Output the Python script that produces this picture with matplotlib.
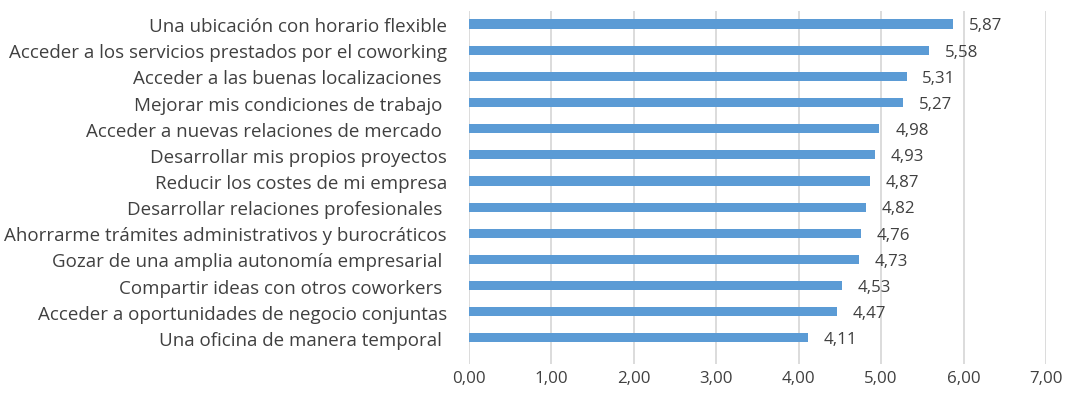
import matplotlib
matplotlib.use('Agg')
import matplotlib.pyplot as plt

# Motivos para usar un coworking (valoración media)
labels = [
    'Una ubicación con horario flexible',
    'Acceder a los servicios prestados por el coworking',
    'Acceder a las buenas localizaciones ',
    'Mejorar mis condiciones de trabajo ',
    'Acceder a nuevas relaciones de mercado ',
    'Desarrollar mis propios proyectos',
    'Reducir los costes de mi empresa',
    'Desarrollar relaciones profesionales ',
    'Ahorrarme trámites administrativos y burocráticos',
    'Gozar de una amplia autonomía empresarial ',
    'Compartir ideas con otros coworkers ',
    'Acceder a oportunidades de negocio conjuntas',
    'Una oficina de manera temporal ',
]
values = [5.87, 5.58, 5.31, 5.27, 4.98, 4.93, 4.87, 4.82, 4.76, 4.73, 4.53, 4.47, 4.11]
xticks = [0, 1, 2, 3, 4, 5, 6, 7]

text_color = '#404040'
bar_color = '#5B9BD5'

plt.rcParams['font.family'] = ['Open Sans', 'DejaVu Sans']

fig = plt.figure(figsize=(10.66, 4.10), dpi=100, facecolor='white')
ax = fig.add_axes([469 / 1066, 1 - 365 / 410, (1046 - 469) / 1066, (365 - 12) / 410])

pos = list(range(len(values)))
ax.barh(pos, values, height=0.35, color=bar_color, zorder=3)

for p, v in zip(pos, values):
    ax.text(v + 0.19, p + 0.05, f'{v:.2f}'.replace('.', ','), va='center', ha='left',
            fontsize=12.2, color=text_color)

ax.set_xlim(0, 7)
ax.set_ylim(13.0, -0.5)
ax.set_xticks(xticks)
ax.set_xticklabels([f'{t:.2f}'.replace('.', ',') for t in xticks])
ax.set_yticks(pos)
ax.set_yticklabels(labels)
ax.tick_params(axis='both', length=0, labelsize=12.2, labelcolor=text_color)
ax.tick_params(axis='y', labelsize=13.5, pad=16)
ax.tick_params(axis='x', pad=4)
ax.xaxis.grid(True, color='#D9D9D9', linewidth=1.3, zorder=0)
for s in ax.spines.values():
    s.set_visible(False)

fig.savefig('out.png', dpi=100, facecolor='white')
